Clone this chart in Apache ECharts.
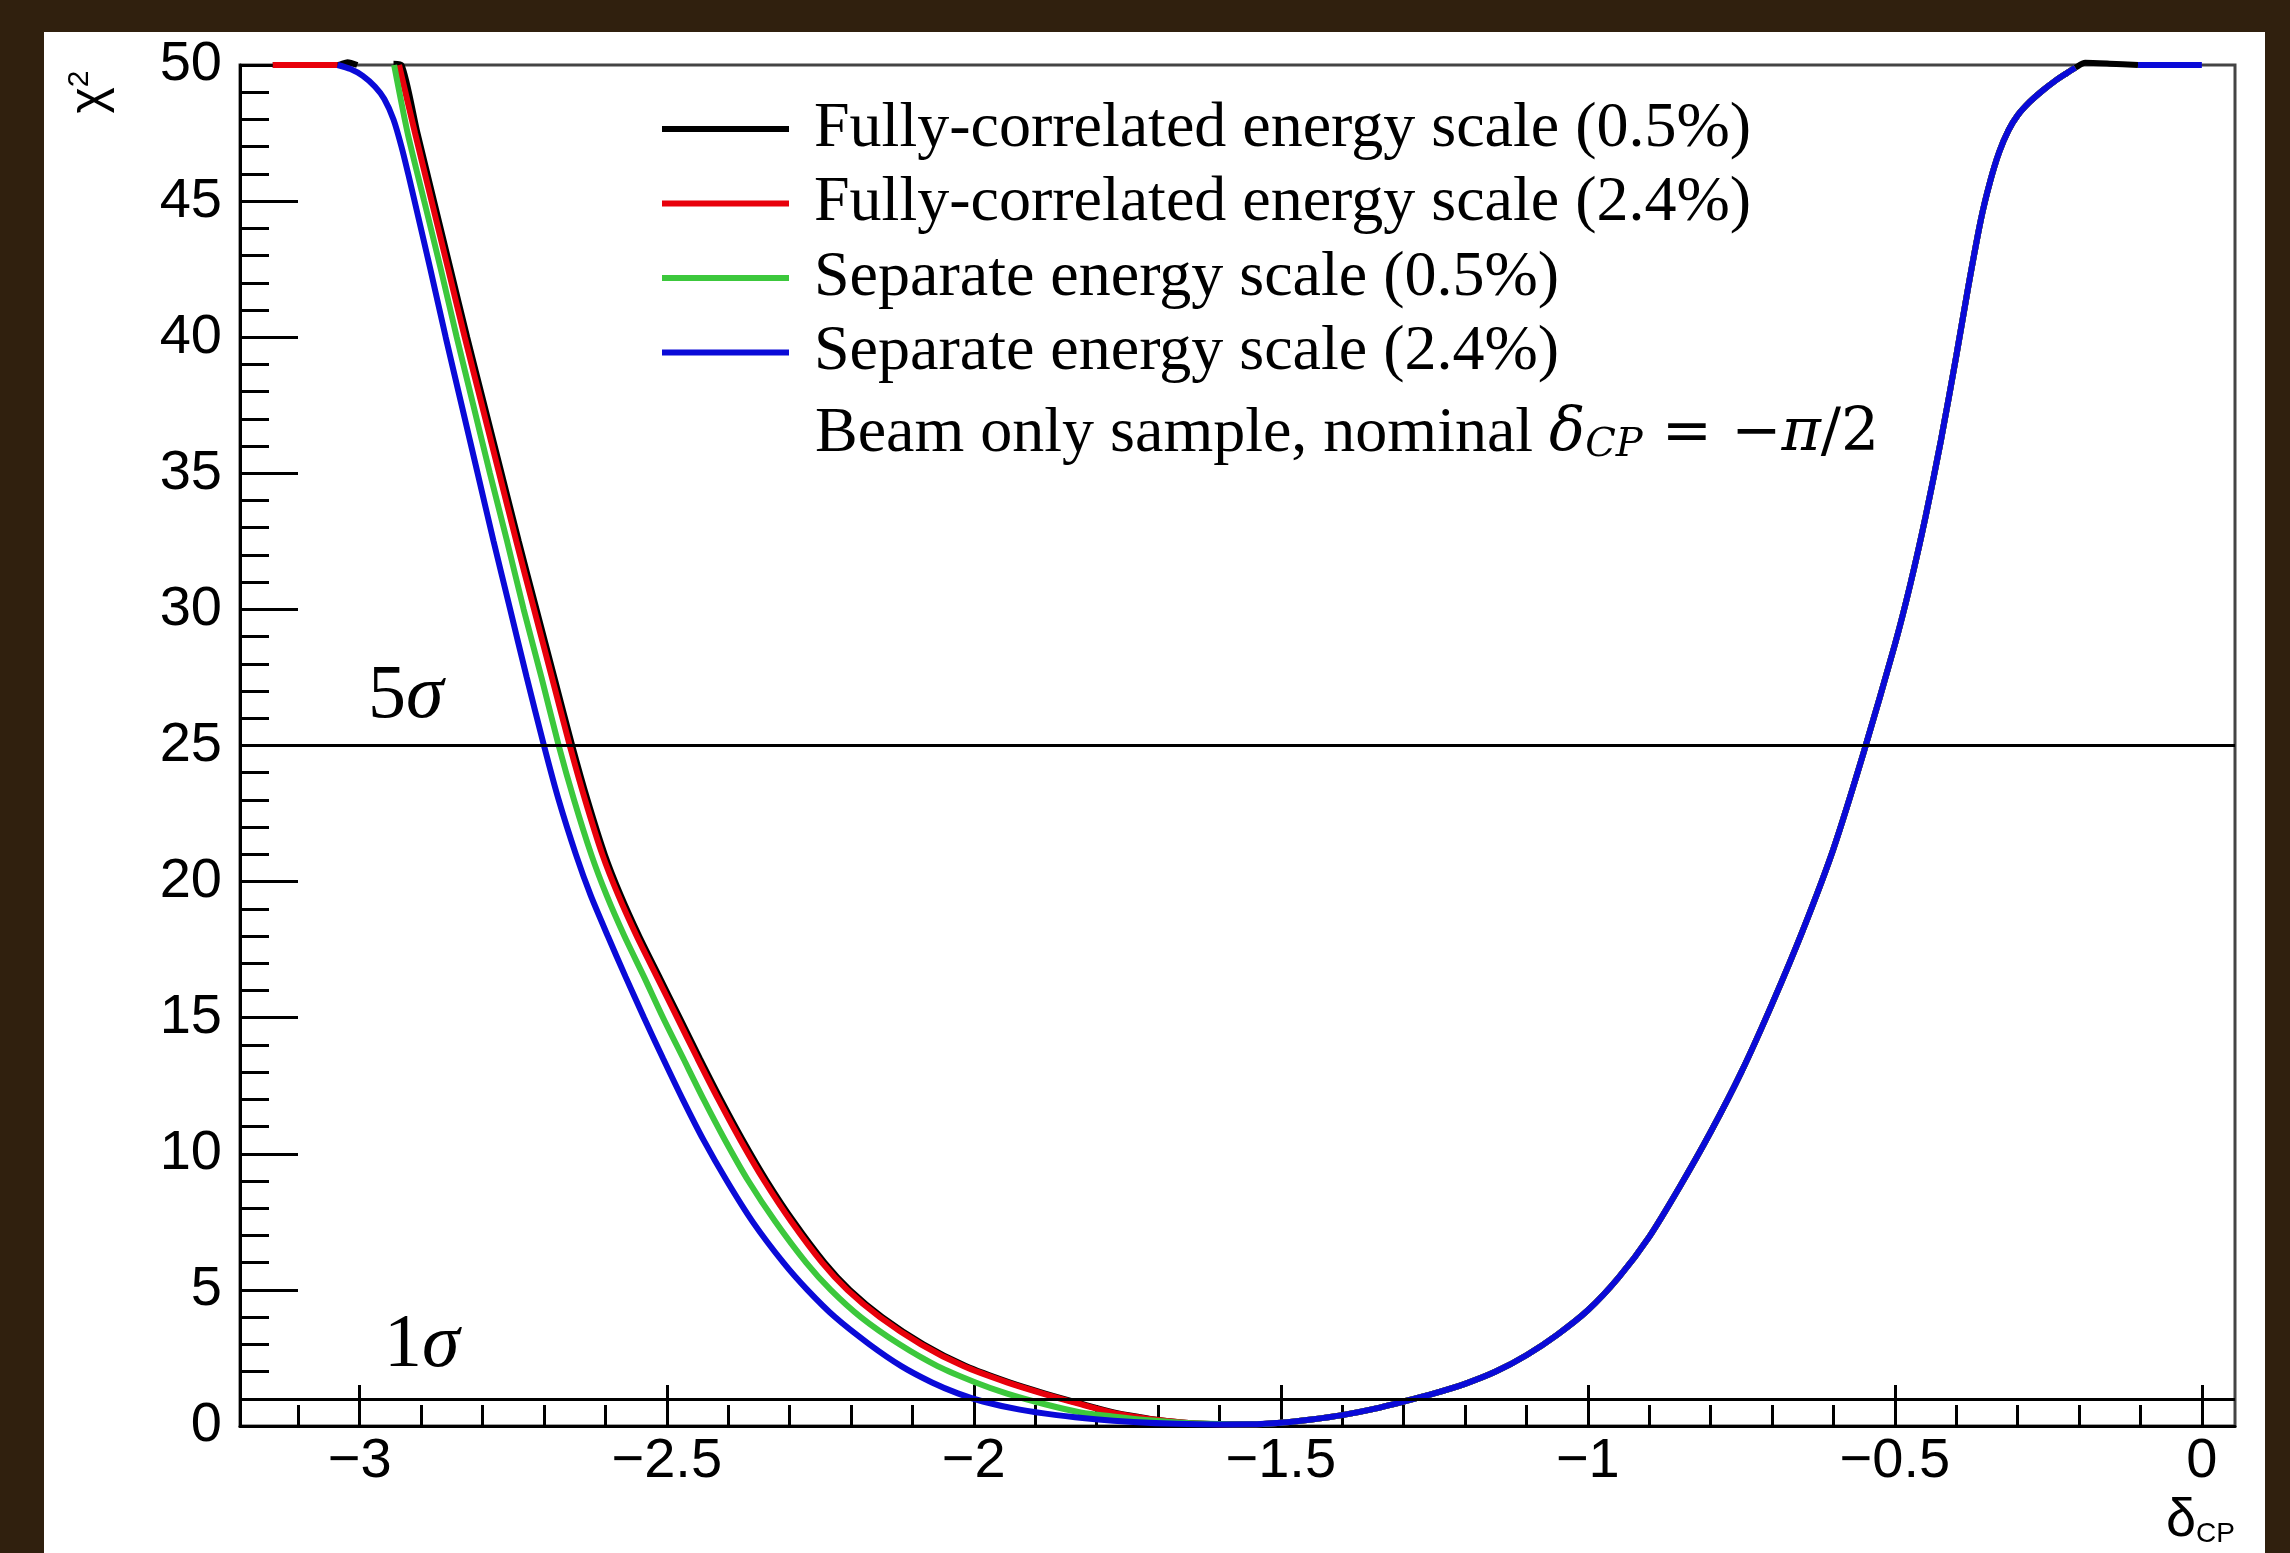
<!DOCTYPE html>
<html>
<head>
<meta charset="utf-8">
<script src="https://cdn.jsdelivr.net/npm/echarts@6.0.0/dist/echarts.min.js"></script>
<style>
  html, body { margin: 0; padding: 0; width: 2290px; height: 1553px; overflow: hidden; background: #30200e; }
  #chart { position: absolute; left: 44px; top: 32px; width: 2221px; height: 1521px; background: #fff; }
</style>
</head>
<body>
<div id="chart"></div>
<script>
// tick values
const majorTicks = [-3, -2.5, -2, -1.5, -1, -0.5, 0]
const minorTicks = [-3.1, -2.9, -2.8, -2.7, -2.6, -2.4, -2.3, -2.2, -2.1, -1.9, -1.8, -1.7, -1.6,
  -1.4, -1.3, -1.2, -1.1, -0.9, -0.8, -0.7, -0.6, -0.4, -0.3, -0.2, -0.1]
const sigmaLevels = [25, 1]

// all four curves lie on top of each other from the minimum onwards
const sharedRight = [[-1.55, 0.06], [-1.50, 0.12], [-1.45, 0.24], [-1.40, 0.40], [-1.35, 0.62], [-1.30, 0.9],
  [-1.25, 1.2], [-1.20, 1.55], [-1.15, 2.0], [-1.10, 2.6], [-1.05, 3.35], [-1.00, 4.25], [-0.95, 5.45],
  [-0.90, 6.95], [-0.85, 8.8], [-0.80, 10.8], [-0.75, 13.0], [-0.70, 15.5], [-0.65, 18.2], [-0.60, 21.2],
  [-0.55, 24.8], [-0.50, 28.7], [-0.475, 30.9], [-0.45, 33.4], [-0.425, 36.2], [-0.40, 39.3], [-0.38, 41.9],
  [-0.36, 44.3], [-0.345, 45.7], [-0.33, 46.8], [-0.315, 47.6], [-0.30, 48.15], [-0.28, 48.65], [-0.26, 49.05],
  [-0.24, 49.4], [-0.22, 49.7], [-0.206, 49.9]]

const blackLeft = [[-3.1416, 50], [-3.036, 50], [-3.02, 50.1], [-3.004, 50], [-2.99, null], [-2.945, 50.05],
  [-2.932, 50], [-2.906, 47.5], [-2.879, 45], [-2.852, 42.5], [-2.825, 40], [-2.797, 37.5], [-2.769, 35],
  [-2.741, 32.5], [-2.712, 30], [-2.683, 27.5], [-2.654, 25], [-2.629, 23], [-2.601, 21], [-2.575, 19.5],
  [-2.545, 18], [-2.512, 16.5], [-2.479, 15], [-2.446, 13.5], [-2.412, 12], [-2.376, 10.5], [-2.337, 9],
  [-2.293, 7.5], [-2.243, 6], [-2.202, 5], [-2.149, 4], [-2.082, 3], [-2.013, 2.2], [-1.942, 1.6], [-1.885, 1.2],
  [-1.822, 0.8], [-1.772, 0.5], [-1.731, 0.33], [-1.70, 0.22], [-1.65, 0.11], [-1.60, 0.065]]
const blackTail = [[-0.19, 50.08], [-0.15, 50.05], [-0.104, 50]]

const redLeft = [[-3.1416, 50], [-3.036, 50], [-3.0, null], [-2.936, 50], [-2.910, 47.5], [-2.883, 45],
  [-2.856, 42.5], [-2.829, 40], [-2.801, 37.5], [-2.773, 35], [-2.745, 32.5], [-2.716, 30], [-2.687, 27.5],
  [-2.658, 25], [-2.633, 23], [-2.605, 21], [-2.579, 19.5], [-2.549, 18], [-2.516, 16.5], [-2.483, 15],
  [-2.450, 13.5], [-2.416, 12], [-2.380, 10.5], [-2.341, 9], [-2.297, 7.5], [-2.247, 6], [-2.206, 5],
  [-2.153, 4], [-2.086, 3], [-2.017, 2.2], [-1.946, 1.6], [-1.889, 1.2], [-1.826, 0.8], [-1.776, 0.5],
  [-1.735, 0.33], [-1.70, 0.22], [-1.65, 0.11], [-1.60, 0.065]]

const greenLeft = [[-2.944, 50], [-2.922, 47.5], [-2.895, 45], [-2.868, 42.5], [-2.842, 40], [-2.815, 37.5],
  [-2.788, 35], [-2.760, 32.5], [-2.733, 30], [-2.704, 27.5], [-2.676, 25], [-2.651, 23], [-2.623, 21],
  [-2.598, 19.5], [-2.569, 18], [-2.537, 16.5], [-2.506, 15], [-2.473, 13.5], [-2.440, 12], [-2.405, 10.5],
  [-2.367, 9], [-2.323, 7.5], [-2.273, 6], [-2.233, 5], [-2.184, 4], [-2.121, 3], [-2.059, 2.2], [-1.997, 1.6],
  [-1.947, 1.2], [-1.884, 0.8], [-1.826, 0.5], [-1.77, 0.34], [-1.72, 0.22], [-1.66, 0.12], [-1.60, 0.07]]

const blueLeft = [[-3.036, 50], [-3.015, 49.85], [-2.995, 49.6], [-2.975, 49.2], [-2.960, 48.75], [-2.945, 48.0],
  [-2.932, 47.0], [-2.920, 45.9], [-2.905, 44.45], [-2.885, 42.5], [-2.860, 40], [-2.834, 37.5], [-2.808, 35],
  [-2.782, 32.5], [-2.755, 30], [-2.728, 27.5], [-2.700, 25], [-2.676, 23], [-2.648, 21], [-2.624, 19.5],
  [-2.596, 18], [-2.567, 16.5], [-2.537, 15], [-2.506, 13.5], [-2.474, 12], [-2.440, 10.5], [-2.402, 9],
  [-2.360, 7.5], [-2.310, 6], [-2.271, 5], [-2.226, 4], [-2.170, 3], [-2.118, 2.2], [-2.068, 1.6], [-2.026, 1.2],
  [-1.985, 0.9], [-1.925, 0.6], [-1.865, 0.4], [-1.802, 0.25], [-1.740, 0.15], [-1.670, 0.08], [-1.600, 0.055]]
const blueTail = [[-0.15, null], [-0.104, 50], [0, 50]]

const names = ['Fully-correlated energy scale (0.5%)', 'Fully-correlated energy scale (2.4%)',
  'Separate energy scale (0.5%)', 'Separate energy scale (2.4%)']
const colors = ['#000000', '#e8000b', '#3cc83c', '#0a0ad8']

const curves = [
  blackLeft.concat(sharedRight, blackTail),
  redLeft.concat(sharedRight),
  greenLeft.concat(sharedRight),
  blueLeft.concat(sharedRight, blueTail)
]

const sans = 'Liberation Sans, Arial, sans-serif'
const serif = 'Liberation Serif, Times New Roman, serif'

const series = curves.map((d, i) => ({
  name: names[i],
  type: 'line',
  data: d,
  symbol: 'none',
  showSymbol: false,
  smooth: 0.25,
  clip: false,
  connectNulls: false,
  color: colors[i],
  lineStyle: { color: colors[i], width: 6 },
  emphasis: { disabled: true }
}))
series[0].markLine = {
  silent: true,
  symbol: 'none',
  label: { show: false },
  lineStyle: { color: '#000', width: 3, type: 'solid' },
  data: sigmaLevels.map(v => ({ yAxis: v }))
}

const chart = echarts.init(document.getElementById('chart'))
chart.setOption({
  animation: false,
  grid: { left: 196, top: 33, right: 30, bottom: 127, show: true, borderColor: '#444', borderWidth: 3 },
  xAxis: [{
    type: 'value', min: -3.195, max: 0.054,
    axisLine: { show: true, onZero: false, lineStyle: { color: '#000', width: 3 } },
    axisTick: { show: true, inside: true, length: 41, customValues: majorTicks, lineStyle: { color: '#000', width: 3 } },
    axisLabel: {
      customValues: majorTicks, margin: 8, color: '#000', fontFamily: sans, fontSize: 56,
      formatter: v => String(v).replace('-', '\u2212')
    },
    splitLine: { show: false }
  }, {
    type: 'value', min: -3.195, max: 0.054, position: 'bottom',
    axisLine: { show: false, onZero: false },
    axisTick: { show: true, inside: true, length: 21, customValues: minorTicks, lineStyle: { color: '#000', width: 3 } },
    axisLabel: { show: false },
    splitLine: { show: false }
  }],
  yAxis: {
    type: 'value', min: 0, max: 50, interval: 5, position: 'left',
    axisLine: { show: true, onZero: false, lineStyle: { color: '#000', width: 3 } },
    axisTick: { show: true, inside: true, length: 58, lineStyle: { color: '#000', width: 3 } },
    minorTick: { show: true, splitNumber: 5, length: 29, lineStyle: { color: '#000', width: 3 } },
    axisLabel: { margin: 18, color: '#000', fontFamily: sans, fontSize: 56 },
    splitLine: { show: false }
  },
  legend: {
    data: names,
    orient: 'vertical',
    left: 618, top: 65,
    padding: 0,
    icon: 'rect',
    itemWidth: 127, itemHeight: 6, itemGap: 10.5,
    selectedMode: false,
    textStyle: { color: '#000', fontFamily: serif, fontSize: 64, lineHeight: 64, padding: [0, 0, 0, 20] }
  },
  graphic: [
    {
      type: 'text', x: 46, y: 60, rotation: Math.PI / 2,
      style: {
        text: '{c|\u03c7}{s|2}', align: 'center', verticalAlign: 'middle',
        rich: { c: { fontFamily: sans, fontSize: 50, fill: '#000' }, s: { fontFamily: sans, fontSize: 30, verticalAlign: 'top', fill: '#000' } }
      }
    },
    {
      type: 'text', x: 2191, y: 1516,
      style: {
        text: '{d|\u03b4}{s|CP}', align: 'right', verticalAlign: 'bottom',
        rich: { d: { fontFamily: sans, fontSize: 54, fill: '#000' }, s: { fontFamily: sans, fontSize: 28, verticalAlign: 'bottom', fill: '#000' } }
      }
    },
    {
      type: 'text', x: 324, y: 665,
      style: {
        text: '{a|5}{b|\u03c3}', verticalAlign: 'middle',
        rich: { a: { fontFamily: serif, fontSize: 76, fill: '#000' }, b: { fontFamily: serif, fontStyle: 'italic', fontSize: 76, fill: '#000' } }
      }
    },
    {
      type: 'text', x: 340, y: 1314,
      style: {
        text: '{a|1}{b|\u03c3}', verticalAlign: 'middle',
        rich: { a: { fontFamily: serif, fontSize: 76, fill: '#000' }, b: { fontFamily: serif, fontStyle: 'italic', fontSize: 76, fill: '#000' } }
      }
    },
    {
      type: 'text', x: 771, y: 402,
      style: {
        text: '{n|Beam only sample, nominal }{d|\u03b4}{s|CP}{m| = \u2212}{p|\u03c0}{m|/2}',
        verticalAlign: 'middle',
        rich: {
          n: { fontFamily: serif, fontSize: 64, fill: '#000' },
          d: { fontFamily: 'DejaVu Serif', fontStyle: 'italic', fontSize: 60, fill: '#000' },
          s: { fontFamily: 'DejaVu Serif', fontStyle: 'italic', fontSize: 40, verticalAlign: 'bottom', fill: '#000' },
          m: { fontFamily: 'DejaVu Serif', fontSize: 60, fill: '#000' },
          p: { fontFamily: 'DejaVu Serif', fontStyle: 'italic', fontSize: 60, fill: '#000' }
        }
      }
    }
  ],
  series: series
})
</script>
</body>
</html>
